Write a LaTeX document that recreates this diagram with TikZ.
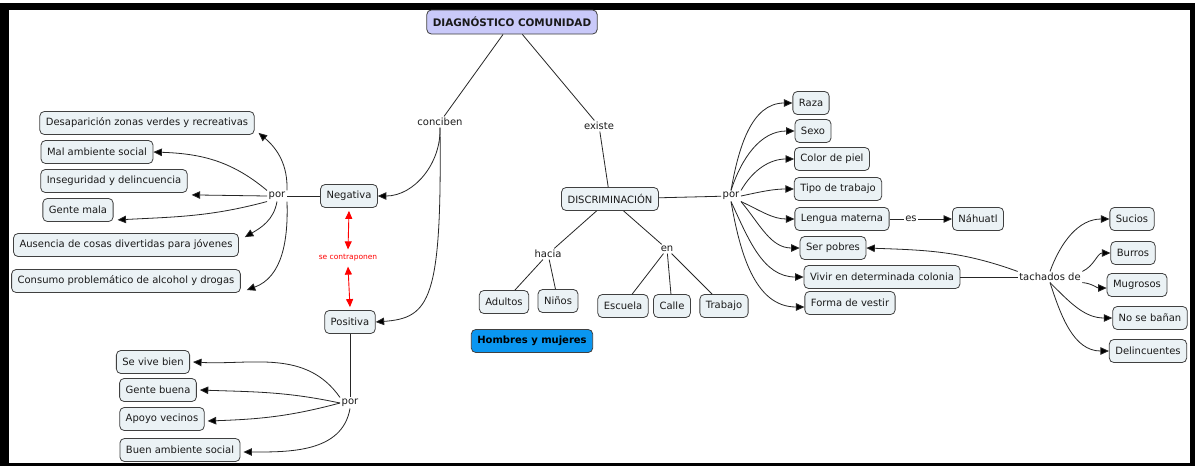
\documentclass[tikz,border=0pt]{standalone}
\usepackage{fontspec}
\setmainfont{DejaVu Sans}
\usetikzlibrary{arrows.meta}
\definecolor{boxfill}{HTML}{EBF2F5}
\definecolor{boxdraw}{HTML}{404040}
\definecolor{titlefill}{HTML}{C9C9F9}
\definecolor{bluefill}{HTML}{0A96F0}
\definecolor{txt}{HTML}{1A1A1A}
\begin{document}
\begin{tikzpicture}[x=1pt,y=1pt,
  box/.style={draw=boxdraw,fill=boxfill,rounded corners=4.5pt,line width=0.8pt,
    font=\fontsize{10}{12}\selectfont,text=txt,inner xsep=6pt,inner ysep=2pt,minimum height=23pt},
  lab/.style={font=\fontsize{10}{12}\selectfont,text=txt,inner sep=1.5pt},
  conn/.style={draw=black!85,line width=0.8pt},
  arr/.style={conn,-{Triangle[length=8.5pt,width=7.5pt,fill=black]}},
  redarr/.style={draw=red,line width=0.9pt,{Triangle[length=8pt,width=7pt]}-{Triangle[length=8pt,width=7pt]}}
]
\useasboundingbox (0,0) rectangle (1195,-466);
\fill[black] (0,-3) rectangle (1195,-466);
\fill[white] (9,-10) rectangle (1190,-463);

% top
\node[box,fill=titlefill,font=\fontsize{10.4}{12}\selectfont\bfseries,minimum height=24pt] (diag) at (512,-22) {DIAGNÓSTICO COMUNIDAD};
\node[lab] (conciben) at (440,-122) {conciben};
\node[lab] (existe) at (599,-126) {existe};

% left
\node[box] (neg) at (349,-196) {Negativa};
\node[box] (pos) at (350,-322) {Positiva};
\node[inner sep=1pt,text=red,font=\fontsize{7.5}{9}\selectfont] (contra) at (348,-258) {se contraponen};
\node[lab] (por1) at (277,-196) {por};
\node[box] (desap) at (147,-123) {Desaparición zonas verdes y recreativas};
\node[box] (mal) at (97,-152) {Mal ambiente social};
\node[box] (inseg) at (114,-181) {Inseguridad y delincuencia};
\node[box] (gmala) at (78,-210) {Gente mala};
\node[box] (ausen) at (126,-245) {Ausencia de cosas divertidas para jóvenes};
\node[box] (consu) at (126,-281) {Consumo problemático de alcohol y drogas};

\node[lab] (por3) at (350,-403) {por};
\node[box] (svb) at (153,-362) {Se vive bien};
\node[box] (gbuena) at (158,-390) {Gente buena};
\node[box] (apoyo) at (162,-419) {Apoyo vecinos};
\node[box] (buen) at (180,-450) {Buen ambiente social};

% middle
\node[box] (disc) at (610,-199) {DISCRIMINACIÓN};
\node[lab] (hacia) at (548,-254) {hacia};
\node[lab] (en) at (667,-249) {en};
\node[box] (adultos) at (504,-302) {Adultos};
\node[box] (ninos) at (558,-301) {Niños};
\node[box] (escuela) at (623,-306) {Escuela};
\node[box] (calle) at (672,-306) {Calle};
\node[box] (trabajo) at (724,-306) {Trabajo};
\node[box,fill=bluefill,font=\fontsize{10}{12}\selectfont\bfseries,text=black] (hym) at (532,-341) {Hombres y mujeres};

% right
\node[lab] (por2) at (731,-196) {por};
\node[box] (raza) at (811,-103) {Raza};
\node[box] (sexo) at (813,-131) {Sexo};
\node[box] (color) at (832,-159) {Color de piel};
\node[box] (tipo) at (838,-189) {Tipo de trabajo};
\node[box] (lengua) at (842,-219) {Lengua materna};
\node[lab] (es) at (911,-219) {es};
\node[box] (nahuatl) at (978,-219) {Náhuatl};
\node[box] (pobres) at (833,-248) {Ser pobres};
\node[box] (vivir) at (882,-277) {Vivir en determinada colonia};
\node[box] (forma) at (850,-303) {Forma de vestir};
\node[lab] (tach) at (1050,-277) {tachados de};
\node[box] (sucios) at (1132,-219) {Sucios};
\node[box] (burros) at (1133,-253) {Burros};
\node[box] (mugro) at (1137,-285) {Mugrosos};
\node[box] (bano) at (1150,-318) {No se bañan};
\node[box] (delin) at (1148,-351) {Delincuentes};

% connectors top
\draw[conn] (diag) -- (conciben);
\draw[conn] (diag) -- (existe);
\draw[conn] (existe) -- (disc);
\draw[arr] (conciben.south) to[out=-88,in=0] (neg.east);
\draw[arr] (conciben.south) .. controls (442,-300) and (430,-318) .. (pos.east);

% left por
\draw[conn] (neg) -- (por1);
\draw[arr] (por1.north east) to[out=88,in=-40] ([shift={(4,2)}]desap.south east);
\draw[arr] (por1.north west) to[out=140,in=-2] (mal.east);
\draw[arr] (por1.west) -- ([shift={(4,-2)}]inseg.south east);
\draw[arr] (por1.south west) to[out=195,in=3] ([shift={(4,2)}]gmala.south east);
\draw[arr] (por1.south) to[out=-100,in=30] ([shift={(6,-4)}]ausen.north east);
\draw[arr] (por1.south east) to[out=-88,in=20] ([shift={(6,-9)}]consu.east);
\draw[redarr] ([yshift=-3pt]neg.south) -- ([yshift=4pt]contra.north);
\draw[redarr] ([yshift=-4pt]contra.south) -- ([yshift=3pt]pos.north);

% bottom por
\draw[conn] (pos) -- (por3);
\draw[arr] (por3.north west) to[out=125,in=-3] ([xshift=3pt]svb.east);
\draw[arr] (por3.west) to[out=168,in=-2] ([xshift=3pt]gbuena.east);
\draw[arr] (por3.west) to[out=195,in=2] ([shift={(3,-2)}]apoyo.east);
\draw[arr] (por3.south) to[out=-100,in=0] ([shift={(3,-2)}]buen.east);

% middle
\draw[conn] (disc) -- (hacia);
\draw[conn] (disc) -- (en);
\draw[conn] (hacia) -- (adultos);
\draw[conn] (hacia) -- (ninos);
\draw[conn] (en) -- (escuela);
\draw[conn] (en) -- (calle);
\draw[conn] (en) -- (trabajo);

% right por
\draw[conn] (disc) -- (por2);
\draw[arr] (por2.north) to[out=80,in=180] (raza.west);
\draw[arr] (por2.north) to[out=72,in=180] (sexo.west);
\draw[arr] (por2.north east) to[out=60,in=180] (color.west);
\draw[arr] (por2.east) to[out=12,in=180] (tipo.west);
\draw[arr] (por2.south east) to[out=-25,in=180] (lengua.west);
\draw[arr] (por2.south east) to[out=-50,in=180] (pobres.west);
\draw[arr] (por2.south) to[out=-65,in=180] (vivir.west);
\draw[arr] (por2.south) to[out=-80,in=180] ([yshift=-4pt]forma.west);
\draw[conn] (lengua) -- (es);
\draw[arr] (es) -- (nahuatl);
\draw[conn] (vivir) -- (tach);
\draw[arr] (tach.north west) to[out=160,in=-2] (pobres.east);
\draw[arr] (tach.north) to[out=70,in=180] (sucios.west);
\draw[arr] (tach.north east) to[out=25,in=180] (burros.west);
\draw[arr] (tach.south east) to[out=-5,in=180] ([yshift=-3pt]mugro.west);
\draw[arr] (tach.south) to[out=-45,in=180] (bano.west);
\draw[arr] (tach.south) to[out=-72,in=180] (delin.west);
\end{tikzpicture}
\end{document}
